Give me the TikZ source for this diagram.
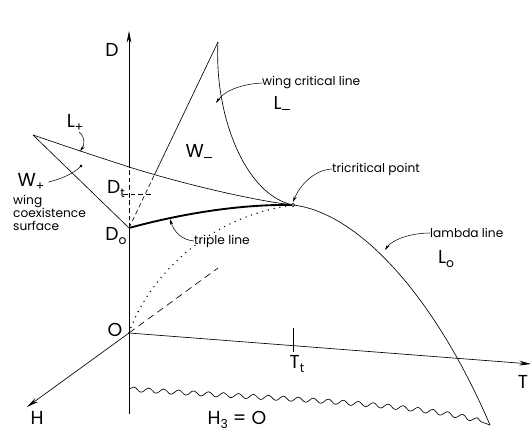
\documentclass[tikz,border=0pt]{standalone}
\usepackage{fontspec}
\setmainfont{Poppins}
\usetikzlibrary{arrows.meta, calc, decorations.pathmorphing}
\newcommand\lowsub[1]{\raisebox{-0.45ex}{\fontsize{10.5}{10.5}\selectfont #1}}
\newcommand\lowbar{\rule[-0.05em]{0.45em}{0.07em}}

\begin{document}
\begin{tikzpicture}[x=0.03cm, y=-0.03cm,
    axis/.style={line width=0.55pt},
    axarrow/.style={-{Stealth[length=10pt, width=4pt]}},
    pointer/.style={line width=0.45pt, -{Stealth[length=5pt, width=2.6pt]}},
    biglabel/.style={font=\fontsize{16}{18}\selectfont},
    smalllabel/.style={font=\fontsize{10.4}{11}\selectfont, inner sep=0pt},
    shortdash/.style={line width=0.5pt, dash pattern=on 4pt off 2.5pt},
  ]
    \useasboundingbox (0,0) rectangle (531,432);

    % axes and frame points
    \coordinate (O) at (129,333);
    \coordinate (Dzero) at (129,228);
    \coordinate (Dcross) at (129,167);
    \coordinate (Dtop) at (129,31);
    \coordinate (Dbot) at (129,414);
    \coordinate (Hend) at (27,407);
    \coordinate (Tend) at (531,364);
    \coordinate (tcp) at (293,205);
    \coordinate (cusp) at (218,42);
    \coordinate (Ltip) at (33,135);
    \coordinate (Wcross) at ($(Dzero)!0.285!(cusp)$);
    \coordinate (lamEnd) at (490,425);
    \coordinate (waveStart) at (129,389);
    \coordinate (dashEnd) at (218,268);
    \coordinate (DtLeft) at (123,194);
    \coordinate (DtRight) at (151,194);
    \coordinate (TtTop) at (293,328);
    \coordinate (TtBot) at (293,352);

    \draw[axis] (Dbot) -- (Dzero);
    \draw[axis, shortdash] (Dzero) -- (Dcross);
    \draw[axis, axarrow] (Dcross) -- (Dtop);
    \draw[axis, axarrow] (O) -- (Hend);
    \draw[axis, axarrow] (O) -- (Tend);
    \draw[axis] (TtTop) -- (TtBot);

    % wing surfaces
    \draw[axis] (Ltip) -- (Dzero);
    \draw[axis] (Ltip) .. controls (80,151) .. (Dcross)
        .. controls (180,183) and (250,200) .. (tcp);
    \draw[axis, shortdash] (Dzero) -- (Wcross);
    \draw[axis] (Wcross) -- (cusp);
    \draw[axis] (cusp) .. controls (214,115) and (245,195) .. (tcp);
    \draw[axis] (tcp) .. controls (355,212) and (432,290) .. (lamEnd);
    \draw[line width=1.6pt] (Dzero) .. controls (180,214) and (240,204) .. (tcp);
    \draw[line width=1.3pt, line cap=round, dash pattern=on 0pt off 5pt]
        (O) .. controls (145,285) and (200,218) .. (tcp);
    \draw[axis, dash pattern=on 6pt off 4pt] (O) -- (dashEnd);
    \draw[axis, shortdash] (DtLeft) -- (DtRight);
    \draw[line width=0.5pt, fill=white] (tcp) circle (1.6);

    % H_3 = 0 boundary
    \draw[axis, decorate, decoration={snake, segment length=0.45cm,
        amplitude=0.07cm, post length=2pt}]
        (waveStart) .. controls (250,398) and (430,402) .. (lamEnd);

    % labels
    \node[biglabel] (Dlab) at (112,50) {D};
    \node[biglabel] (Olab) at (115,330) {O};
    \node[biglabel] (Hlab) at (37,418) {H};
    \node[biglabel] (Tlab) at (523,382) {T};
    \node[biglabel] (Lplus) at (75,123) {L\lowsub{+}};
    \node[biglabel] (Wplus) at (31,182) {W\lowsub{+}};
    \node[biglabel] (Wminus) at (199,151) {W\lowbar};
    \node[biglabel] (Lminus) at (282,103) {L\lowbar};
    \node[biglabel] (Lzero) at (446,259) {L\lowsub{o}};
    \node[biglabel] (Dt) at (116,189) {D\lowsub{t}};
    \node[biglabel] (Do) at (116,236) {D\lowsub{o}};
    \node[biglabel] (Tt) at (297,364) {T\lowsub{t}};
    \node[biglabel] (Hzero) at (237,420) {H\lowsub{3} = O};

    \node[smalllabel, anchor=west] (wcl) at (262,83) {wing critical line};
    \node[smalllabel, anchor=west] (tcpText) at (332,169) {tricritical point};
    \node[smalllabel, anchor=west] (tlText) at (194,241) {triple line};
    \node[smalllabel, anchor=west] (lamText) at (430,233) {lambda line};
    \node[smalllabel, anchor=west, align=left, font=\fontsize{10.4}{10.8}\selectfont]
        (wcs) at (13,213) {wing\\coexistence\\surface};

    % pointers
    \coordinate (wclTip) at (216,103);
    \coordinate (LplusFoot) at (79,132);
    \coordinate (LplusTip) at (80,151);
    \coordinate (WplusTip) at (82,165);
    \coordinate (tcpTip) at (293,202);
    \coordinate (tlTip) at (170,219);
    \coordinate (lamTip) at (385,250);
    \draw[pointer] (wcl.west) .. controls (243,84) and (225,90) .. (wclTip);
    \draw[pointer] (LplusFoot) .. controls (86,137) and (84,146) .. (LplusTip);
    \draw[line width=0.45pt, -{Circle[length=2.4pt]}]
        (Wplus.east) .. controls (65,178) and (75,172) .. (WplusTip);
    \draw[pointer] (tcpText.west) .. controls (314,170) and (300,185) .. (tcpTip);
    \draw[pointer] (tlText.west) .. controls (182,240) and (174,232) .. (tlTip);
    \draw[pointer] (lamText.west) .. controls (410,233) and (392,240) .. (lamTip);
\end{tikzpicture}
\end{document}
